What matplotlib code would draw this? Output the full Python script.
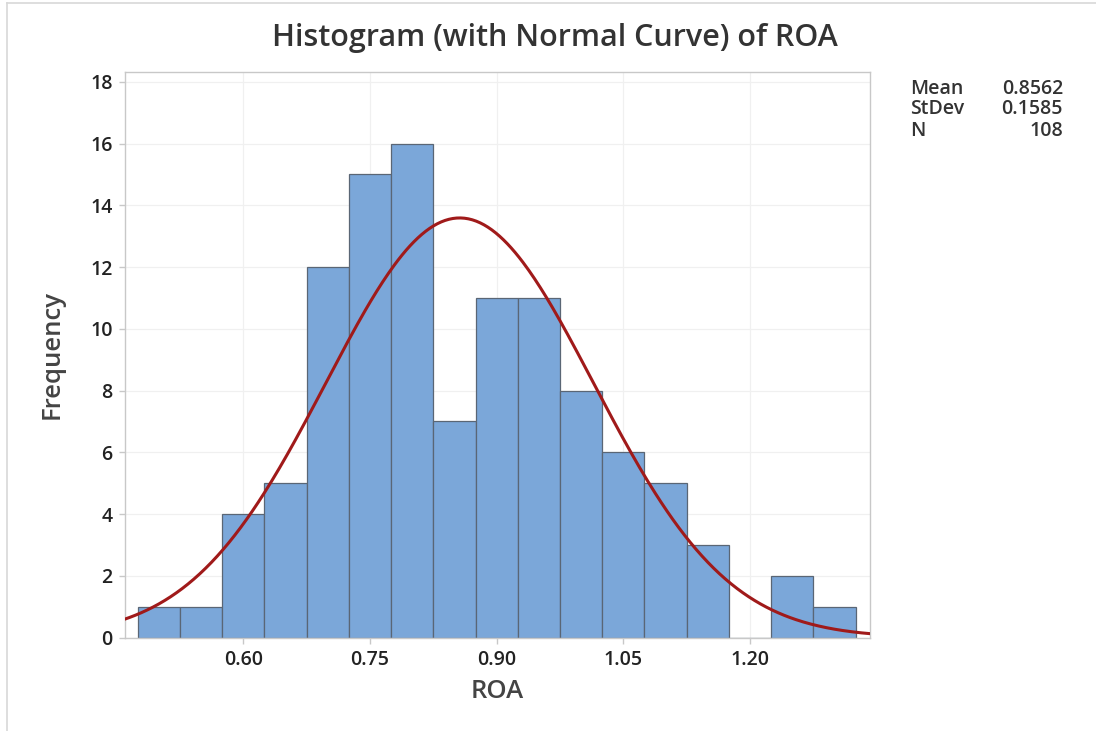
import matplotlib
matplotlib.use('Agg')
import matplotlib.pyplot as plt
import numpy as np
from matplotlib.lines import Line2D

plt.rcParams['font.family'] = ['Open Sans', 'DejaVu Sans']

# histogram data (bin midpoints and counts)
bin_mids = [0.50, 0.55, 0.60, 0.65, 0.70, 0.75, 0.80, 0.85, 0.90,
            0.95, 1.00, 1.05, 1.10, 1.15, 1.20, 1.25, 1.30]
counts = [1, 1, 4, 5, 12, 15, 16, 7, 11, 11, 8, 6, 5, 3, 0, 2, 1]
bin_width = 0.05
mean = 0.8562
stdev = 0.1585
n_obs = 108
x_ticks = [0.60, 0.75, 0.90, 1.05, 1.20]
y_ticks = list(range(0, 19, 2))

W, H = 1096, 731
fig = plt.figure(figsize=(W / 100, H / 100), dpi=100)
ax = fig.add_axes([125 / W, 1 - 637.5 / H, 745 / W, 565.2 / H])

ax.set_axisbelow(True)
ax.grid(True, color='#f0f0f0', linewidth=0.9)
ax.bar(bin_mids, counts, width=bin_width, color='#7ba7d9',
       edgecolor='#5a6675', linewidth=0.9, zorder=2)

# fitted normal curve, scaled to counts
xs = np.linspace(0.44, 1.36, 400)
pdf = n_obs * bin_width * np.exp(-0.5 * ((xs - mean) / stdev) ** 2) / (stdev * np.sqrt(2 * np.pi))
ax.plot(xs, pdf, color='#a01a1a', linewidth=2.2, zorder=3)

ax.set_xlim(0.4599, 1.3421)
ax.set_ylim(0, 18.31)
ax.set_xticks(x_ticks)
ax.set_xticklabels([f'{t:.2f}' for t in x_ticks])
ax.set_yticks(y_ticks)
for sp in ax.spines.values():
    sp.set_color('#c8c8c8')
    sp.set_linewidth(1.0)
ax.tick_params(colors='#c8c8c8', labelcolor='#222222', labelsize=14, length=4, width=1.0, pad=5)
for lbl in ax.get_xticklabels() + ax.get_yticklabels():
    lbl.set_fontweight('semibold')

ax.set_xlabel('ROA', fontsize=18.5, color='#444444', fontweight='semibold')
ax.set_ylabel('Frequency', fontsize=18.5, color='#444444', fontweight='semibold')
ax.xaxis.label.set_va('center')
ax.yaxis.label.set_va('center')
ax.xaxis.set_label_coords(0.5, -(692 - 637.5) / 565.2)
ax.yaxis.set_label_coords((52 - 125) / 745, 0.5)

fig.text(555 / W, 1 - 38 / H, 'Histogram (with Normal Curve) of ROA',
         ha='center', va='center', fontsize=22, color='#333333', fontweight='semibold')

stats = [('Mean', f'{mean:.4f}'), ('StDev', f'{stdev:.4f}'), ('N', f'{n_obs}')]
for i, (lab, val) in enumerate(stats):
    y = 1 - (88.5 + 21 * i) / H
    fig.text(910 / W, y, lab, ha='left', va='center', fontsize=14,
             color='#333333', fontweight='semibold')
    fig.text(1063 / W, y, val, ha='right', va='center', fontsize=14,
             color='#333333', fontweight='semibold')

# screenshot frame lines
fig.add_artist(Line2D([7 / W, 7 / W], [0, 1 - 3 / H], color='#d8d8d8', linewidth=1.2))
fig.add_artist(Line2D([7 / W, 1], [1 - 3 / H, 1 - 3 / H], color='#d8d8d8', linewidth=1.2))

fig.savefig('out.png', dpi=100)
